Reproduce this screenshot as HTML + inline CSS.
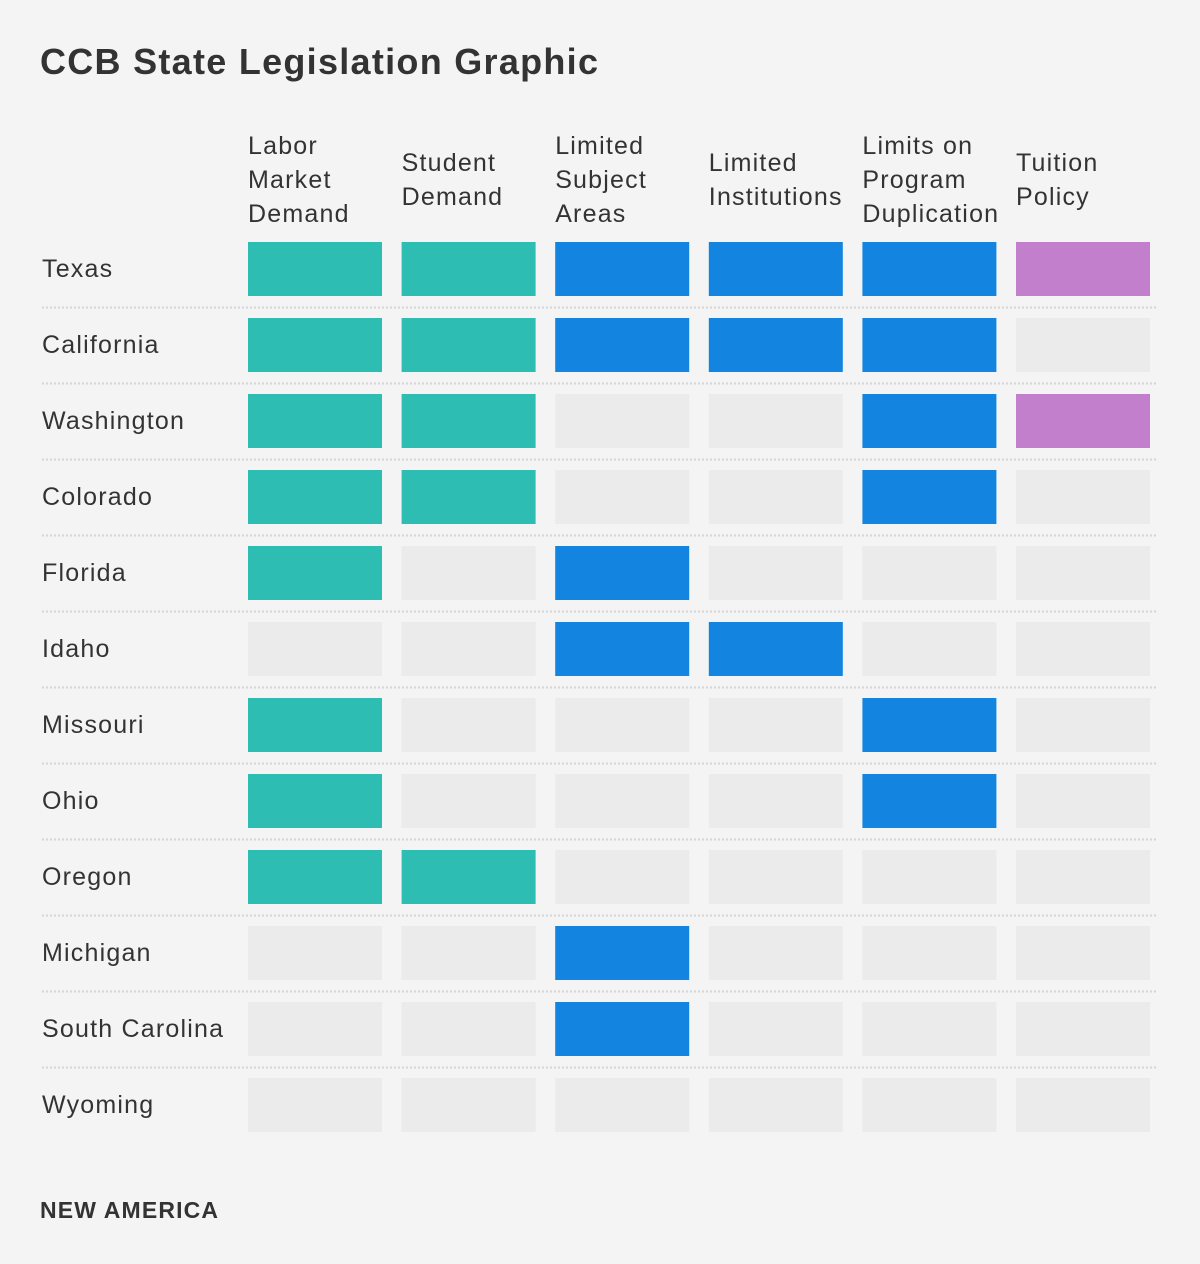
<!DOCTYPE html>
<html><head><meta charset="utf-8"><style>
body{margin:0;background:#f4f4f4;font-family:"Liberation Sans",sans-serif;}
svg{display:block}
</style></head><body>
<svg id="chart" width="1200" height="1264" viewBox="0 0 1200 1264">
<rect width="1200" height="1264" fill="#f4f4f4"/>
<text x="40" y="74" font-size="36" font-weight="bold" fill="#333" textLength="558" lengthAdjust="spacing">CCB State Legislation Graphic</text>
<text x="40" y="1218" font-size="23" font-weight="bold" fill="#333" textLength="178" lengthAdjust="spacing">NEW AMERICA</text>
<g id="grid"></g>
</svg>
<script>
const states = ["Texas","California","Washington","Colorado","Florida","Idaho","Missouri","Ohio","Oregon","Michigan","South Carolina","Wyoming"];
const columns = [["Labor","Market","Demand"],["Student","Demand"],["Limited","Subject","Areas"],["Limited","Institutions"],["Limits on","Program","Duplication"],["Tuition","Policy"]];
const laborMarket = [1,1,1,1,1,0,1,1,1,0,0,0];
const studentDemand = [1,1,1,1,0,0,0,0,1,0,0,0];
const limitedSubject = [1,1,0,0,1,1,0,0,0,1,1,0];
const limitedInst = [1,1,0,0,0,1,0,0,0,0,0,0];
const programDup = [1,1,1,1,0,0,1,1,0,0,0,0];
const tuitionPolicy = [1,0,1,0,0,0,0,0,0,0,0,0];
const series = [laborMarket,studentDemand,limitedSubject,limitedInst,programDup,tuitionPolicy];
const colColors = ["#2ebdb2","#2ebdb2","#1385e1","#1385e1","#1385e1","#c17fcc"];
const NS="http://www.w3.org/2000/svg";
const g=document.getElementById('grid');
const xPos=i=>248+i*153.6, yPos=j=>242+j*76, cw=134, ch=54;
function mk(t,a){const e=document.createElementNS(NS,t);for(const k in a)e.setAttribute(k,a[k]);g.appendChild(e);return e;}
columns.forEach((lines,i)=>{
  const top = lines.length===3?154:171;
  lines.forEach((l,k)=>{
    const t=mk('text',{x:xPos(i),y:top+k*34,'font-size':25,fill:'#333','letter-spacing':'1.2'});
    
    
    t.textContent=l;
  });
});
states.forEach((s,j)=>{
  const t=mk('text',{x:42,y:yPos(j)+35,'font-size':25,fill:'#333','letter-spacing':'1.2'});
  
  
  t.textContent=s;
  series.forEach((arr,i)=>{
    const r=mk('rect',{x:xPos(i),y:yPos(j),width:cw,height:ch,fill:arr[j]?colColors[i]:'#ebebeb'});
    
    
  });
  if(j<states.length-1){
    const ln=mk('line',{x1:42,x2:1158,y1:yPos(j)+65.5,y2:yPos(j)+65.5,stroke:'#d4d4d4','stroke-width':2,'stroke-dasharray':'2 2'});
    
    
  }
});
</script>
</body></html>
